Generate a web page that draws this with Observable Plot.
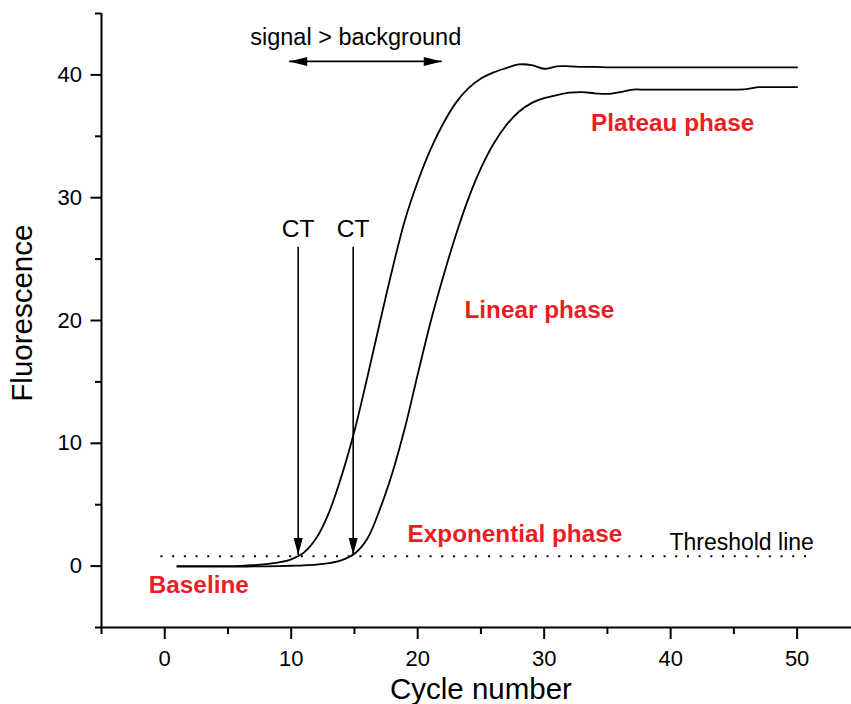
<!DOCTYPE html>
<html>
<head>
<meta charset="utf-8">
<script src="https://cdn.jsdelivr.net/npm/d3@7"></script>
<script src="https://cdn.jsdelivr.net/npm/@observablehq/plot@0.6"></script>
<style>
  html, body { margin: 0; padding: 0; background: #fff; overflow: hidden; }
  #chart svg { display: block; }
</style>
</head>
<body>
<div id="chart"></div>
<script>
// ---- Data ----
const cycles = [1,2,3,4,5,6,7,8,9,10,11,12,13,14,15,16,17,18,19,20,21,22,23,24,25,
  26,27,28,29,30,31,32,33,34,35,36,37,38,39,40,41,42,43,44,45,46,47,48,49,50];
const sampleA = [0.0,0.0,0.0,0.0,0.0,0.02,0.07,0.16,0.3,0.55,1.1,2.3,4.4,7.4,11.0,15.3,19.8,24.2,28.2,31.3,
  33.9,36.0,37.7,38.9,39.7,40.2,40.55,40.85,40.8,40.5,40.7,40.7,40.65,40.65,
  40.62,40.62,40.62,40.62,40.62,40.62,40.62,40.62,40.62,40.62,40.62,40.62,40.62,40.62,40.62,40.62];
const sampleB = [-0.05,-0.05,-0.05,-0.05,-0.05,-0.04,-0.03,-0.02,0.0,0.03,0.06,0.12,0.24,0.48,1.0,2.2,4.6,7.6,11.3,15.6,
  19.8,23.5,26.9,29.9,32.4,34.4,35.9,37.0,37.7,38.1,38.35,38.55,38.6,38.5,38.45,38.6,38.8,38.8,38.8,38.8,
  38.8,38.8,38.8,38.8,38.8,38.85,39.0,39.0,39.0,39.0];
const thresholdValue = 0.8;
const thresholdSpan = [-0.3, 51.3];
const ctCycles = [10.55, 14.9];
const ctArrowTop = 26.0;
const ctLabels = ["CT", "CT"];
const signalSpan = [9.84, 21.9];
const signalLevel = 41.1;
const signalLabel = "signal > background";
const xMajorTicks = [0, 10, 20, 30, 40, 50];
const xMinorTicks = [-5, 5, 15, 25, 35, 45];
const yMajorTicks = [0, 10, 20, 30, 40];
const yMinorTicks = [-5, 5, 15, 25, 35, 45];
const phaseLabels = ["Plateau phase", "Linear phase", "Exponential phase", "Baseline"];
const thresholdLabel = "Threshold line";
const xTitle = "Cycle number";
const yTitle = "Fluorescence";

// ---- Build tables ----
const series = [];
cycles.forEach((c, i) => series.push({cycle: c, value: sampleA[i], s: "A"}));
cycles.forEach((c, i) => series.push({cycle: c, value: sampleB[i], s: "B"}));

const phasePos = [[33.7, 35.4], [23.7, 20.2], [19.2, 1.97], [-1.26, -2.22]];
const phases = phaseLabels.map((t, i) => ({text: t, x: phasePos[i][0], y: phasePos[i][1]}));

const ctData = ctCycles.map((c, i) => ({x: c, top: ctArrowTop, tip: thresholdValue + 0.1, label: ctLabels[i]}));

const red = "#ed1c24";
const ff = "'Liberation Sans', Arial, Helvetica, sans-serif";

// Filled arrowheads as custom symbols (tip at the anchor point)
const headDown = {draw(ctx) { ctx.moveTo(0, 0); ctx.lineTo(-4.5, -17); ctx.lineTo(4.5, -17); ctx.closePath(); }};
const headLeft = {draw(ctx) { ctx.moveTo(0, 0); ctx.lineTo(18, -4.5); ctx.lineTo(18, 4.5); ctx.closePath(); }};
const headRight = {draw(ctx) { ctx.moveTo(0, 0); ctx.lineTo(-18, -4.5); ctx.lineTo(-18, 4.5); ctx.closePath(); }};

const chart = Plot.plot({
  width: 851,
  height: 704,
  marginTop: 13,
  marginBottom: 77,
  marginLeft: 101,
  marginRight: 0,
  x: {domain: [-5, 54.3], axis: null},
  y: {domain: [-5, 45], axis: null},
  style: {fontFamily: ff, background: "#fff", color: "#000", overflow: "visible"},
  marks: [
    // axes
    Plot.ruleY([-5], {strokeWidth: 2}),
    Plot.ruleX([-5], {strokeWidth: 2}),
    Plot.axisX(xMajorTicks, {tickSize: 12, tickPadding: 11, strokeWidth: 2, fontSize: 22, label: null, anchor: "bottom"}),
    Plot.axisX(xMinorTicks, {tickSize: 7, strokeWidth: 2, tickFormat: () => "", label: null, anchor: "bottom"}),
    Plot.axisY(yMajorTicks, {tickSize: 10.5, tickPadding: 9, strokeWidth: 2, fontSize: 22, label: null, anchor: "left"}),
    Plot.axisY(yMinorTicks, {tickSize: 6, strokeWidth: 2, tickFormat: () => "", label: null, anchor: "left"}),
    Plot.text([{t: yTitle, y: 20.6}], {text: "t", y: "y", frameAnchor: "left", dx: -78.5, rotate: -90, fontSize: 29.5, lineAnchor: "middle", textAnchor: "middle"}),
    Plot.text([{t: xTitle, x: 25}], {text: "t", x: "x", frameAnchor: "bottom", dy: 50.5, fontSize: 29.5, lineAnchor: "top", textAnchor: "middle"}),
    // threshold
    Plot.ruleY([thresholdValue], {x1: thresholdSpan[0], x2: thresholdSpan[1], strokeWidth: 2, strokeDasharray: "2,9.7"}),
    Plot.text([{t: thresholdLabel, x: 39.9, y: 1.29}], {text: "t", x: "x", y: "y", fontSize: 23, textAnchor: "start", lineAnchor: "bottom"}),
    // curves
    Plot.line(series, {x: "cycle", y: "value", z: "s", stroke: "#000", strokeWidth: 1.8, curve: "catmull-rom"}),
    // CT arrows
    Plot.link(ctData, {x1: "x", x2: "x", y1: "top", y2: "tip", stroke: "#000", strokeWidth: 1.6}),
    Plot.dot(ctData, {x: "x", y: "tip", symbol: headDown, fill: "#000", stroke: "none"}),
    Plot.text(ctData, {x: "x", y: "top", text: "label", dy: -10, fontSize: 24.5, textAnchor: "middle", lineAnchor: "bottom"}),
    // signal > background
    Plot.link([{x1: signalSpan[0], x2: signalSpan[1], y: signalLevel}], {x1: "x1", x2: "x2", y1: "y", y2: "y", stroke: "#000", strokeWidth: 1.8}),
    Plot.dot([{x: signalSpan[0], y: signalLevel}], {x: "x", y: "y", symbol: headLeft, fill: "#000", stroke: "none"}),
    Plot.dot([{x: signalSpan[1], y: signalLevel}], {x: "x", y: "y", symbol: headRight, fill: "#000", stroke: "none"}),
    Plot.text([{t: signalLabel, x: 15.1, y: 42.46}], {text: "t", x: "x", y: "y", fontSize: 23.5, textAnchor: "middle", lineAnchor: "bottom"}),
    // phase labels
    Plot.text(phases, {x: "x", y: "y", text: "text", fill: red, fontWeight: "bold", fontSize: 24.3, textAnchor: "start", lineAnchor: "bottom"})
  ]
});
document.getElementById("chart").appendChild(chart);
</script>
</body>
</html>
